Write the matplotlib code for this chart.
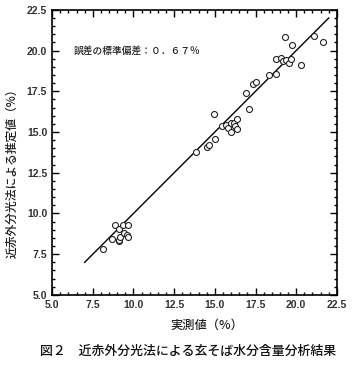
import matplotlib
matplotlib.use("Agg")
import matplotlib.pyplot as plt
import matplotlib.ticker as mticker
import numpy as np

plt.rcParams["font.family"] = ["Noto Sans CJK JP", "DejaVu Sans"]

# measured (x) vs NIR estimated (y) moisture, %
measured = [8.11, 8.70, 8.89, 9.13, 9.09, 9.13, 9.17, 9.34, 9.44, 9.58, 9.64, 9.69,
            13.82, 14.54, 14.66, 15.01, 14.96, 15.42, 15.66, 15.82, 15.97, 15.97,
            16.19, 16.25, 16.36, 16.38, 16.89, 17.11, 17.36, 17.52, 18.34, 18.79,
            18.77, 19.04, 19.16, 19.36, 19.53, 19.69, 19.34, 19.75, 20.27, 21.10, 21.66]
estimated = [7.81, 8.42, 9.30, 9.03, 8.33, 8.40, 8.58, 9.28, 8.79, 8.68, 8.54, 9.30,
             13.76, 14.10, 14.19, 14.56, 16.09, 15.37, 15.44, 15.27, 15.54, 14.99,
             15.54, 15.39, 15.82, 15.21, 17.40, 16.40, 17.95, 18.06, 18.49, 18.55,
             19.51, 19.55, 19.38, 19.41, 19.26, 19.51, 20.84, 20.35, 19.12, 20.90, 20.55]
fit_range = [7.0, 22.0]

fig = plt.figure(figsize=(3.52, 3.65), dpi=100)
ax = fig.add_axes([0.148, 0.192, 0.809, 0.781])

ax.plot(fit_range, fit_range, color="black", linewidth=1.0)
ax.plot(measured, estimated, linestyle="none", marker="o", markersize=4.3,
        markerfacecolor="white", markeredgecolor="#222222", markeredgewidth=0.8)

ax.set_xlim(5.0, 22.5)
ax.set_ylim(5.0, 22.5)
ax.xaxis.set_major_locator(mticker.MultipleLocator(2.5))
ax.yaxis.set_major_locator(mticker.MultipleLocator(2.5))
ax.xaxis.set_minor_locator(mticker.MultipleLocator(0.5))
ax.yaxis.set_minor_locator(mticker.MultipleLocator(0.5))
ax.xaxis.set_major_formatter(mticker.FormatStrFormatter("%.1f"))
ax.yaxis.set_major_formatter(mticker.FormatStrFormatter("%.1f"))
ax.tick_params(which="both", direction="in", top=True, right=True, width=1.0)
ax.tick_params(which="major", length=5)
ax.tick_params(which="minor", length=2.5)
for lab in ax.get_xticklabels() + ax.get_yticklabels():
    lab.set_fontfamily("Liberation Sans")
    lab.set_fontweight("bold")
    lab.set_fontsize(7.5)
    lab.set_color("#333333")
for sp in ax.spines.values():
    sp.set_linewidth(1.2)

ax.text(6.3, 20.0, "誤差の標準偏差：０．６７％", fontsize=7, ha="left", va="center",
        color="#222222", fontweight="medium")

fig.text(0.588, 0.108, "実測値（%）", fontsize=8.8, ha="center", va="center",
         color="#222222", fontweight="medium")
fig.text(0.034, 0.534, "近赤外分光法による推定値（%）", fontsize=8.5, rotation=90,
         ha="center", va="center", color="#222222", fontweight="medium")
fig.text(0.535, 0.036, "図２　近赤外分光法による玄そば水分含量分析結果", fontsize=9.3,
         ha="center", va="center", color="#111111", fontweight="medium")

fig.savefig("out.png", dpi=100)
